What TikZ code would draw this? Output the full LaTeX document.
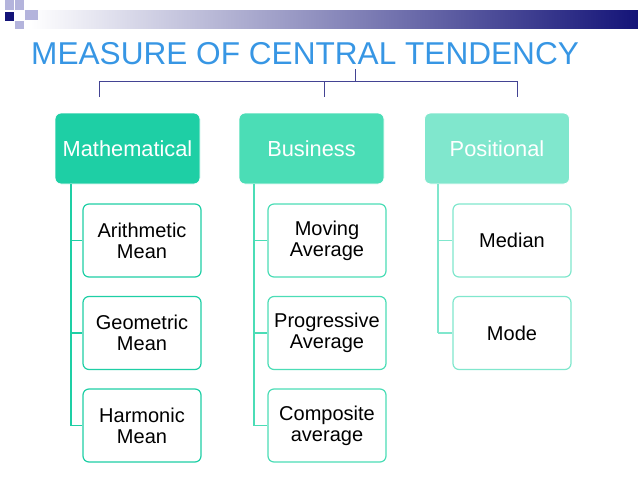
\documentclass[tikz,border=0pt]{standalone}
\usepackage{fontspec}
\setmainfont{Liberation Sans}
\begin{document}
\begin{tikzpicture}[x=1pt,y=-1pt,
  top/.style={rounded corners=6pt,draw=white,line width=0.8pt,minimum width=145pt,minimum height=71pt,text=white,font=\fontsize{21.8}{23}\selectfont,inner sep=0pt},
  child/.style={rounded corners=6pt,draw=#1,line width=1.2pt,fill=white,minimum width=118pt,minimum height=73pt,align=center,font=\fontsize{20}{21}\selectfont,inner sep=0pt},
  tree/.style={draw=#1,line width=1.4pt}]
\definecolor{c1}{RGB}{30,207,165}\definecolor{c2}{RGB}{75,221,182}\definecolor{c3}{RGB}{128,231,205}
\definecolor{navy}{RGB}{20,20,120}\definecolor{lav}{RGB}{180,180,220}\definecolor{tb}{RGB}{55,150,228}
\useasboundingbox (0,0) rectangle (638,479);
\shade[left color=white,right color=navy] (30,10) rectangle (638,28);
\fill[navy] (5,12) rectangle (14,21);
\fill[lav] (15,0) rectangle (24,10); \fill[lav] (25,10) rectangle (38,20);\fill[lav] (15,21) rectangle (24,29);\fill[lav] (5,0) rectangle (14,10);
\node[anchor=west,text=tb,font=\fontsize{31.6}{33}\selectfont,inner sep=0pt] (title) at (31,54) {MEASURE OF CENTRAL TENDENCY};
\coordinate (t0) at (355,69);
\node[top,fill=c1] (m) at (127.5,148.5) {Mathematical};
\node[top,fill=c2] (b) at (311.5,148.5) {Business};
\node[top,fill=c3] (p) at (497,148.5) {Positional};
\draw[navy!80,line width=0.8pt] (t0) -- (355,81) (99,97) -- (99,81) -- (517,81) -- (517,97) (324,81) -- (324,97);
\foreach \n/\x/\tx/\c/\k in {m/142/71/c1/3,b/327/254/c2/3,p/512/438/c3/2}{
  \draw[tree=\c] (\tx,184) -- (\tx,{240.5+(\k-1)*92.5});
}
\foreach \x/\tx/\c/\nm/\y/\t in {142/71/c1/m1/240.5/Arithmetic\\Mean,142/71/c1/m2/333/Geometric\\Mean,142/71/c1/m3/425.5/Harmonic\\Mean,
 327/254/c2/b1/240.5/Moving\\Average,327/254/c2/b2/333/Progressive\\Average,327/254/c2/b3/425.5/Composite\\average,
 512/438/c3/p1/240.5/Median,512/438/c3/p2/333/Mode}{
  \node[child=\c] (\nm) at (\x,\y) {\t};
  \draw[tree=\c] (\tx,\y) -- (\nm.west);
}
\end{tikzpicture}
\end{document}
